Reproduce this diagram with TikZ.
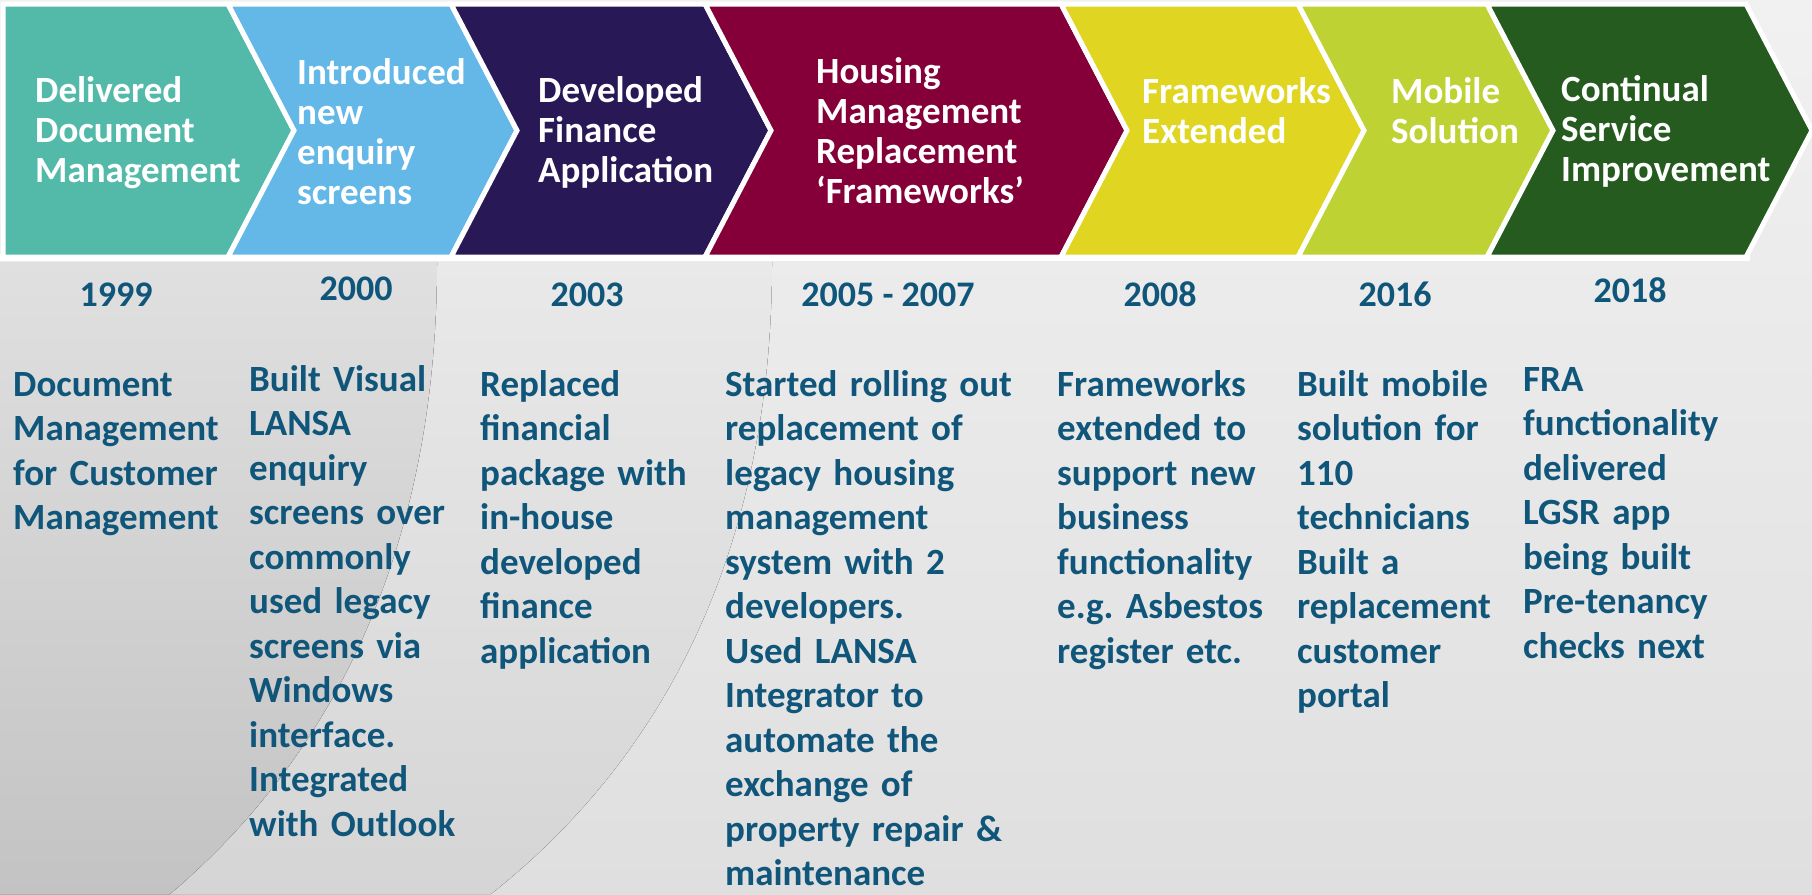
\documentclass[tikz,border=0pt]{standalone}
\usepackage{fontspec}
\setmainfont{Carlito}
\frenchspacing
\definecolor{cteal}{HTML}{53BAAA}
\definecolor{cblue}{HTML}{63B8E7}
\definecolor{cpurple}{HTML}{281856}
\definecolor{cmaroon}{HTML}{850039}
\definecolor{cyellow}{HTML}{E0D520}
\definecolor{clime}{HTML}{BED233}
\definecolor{cgreen}{HTML}{255B1F}
\definecolor{txtblue}{HTML}{10567A}
\definecolor{bgtop}{HTML}{F1F1F1}
\definecolor{bgbot}{HTML}{DFDFDF}
\definecolor{midtop}{HTML}{E9E9E9}
\definecolor{midbot}{HTML}{D5D5D5}
\definecolor{darktop}{HTML}{E0E0E0}
\definecolor{darkbot}{HTML}{C3C3C3}
\tikzset{
  chev/.style={draw=white, line width=5pt, line join=miter},
  ttl/.style={text=white, font=\bfseries\fontsize{37}{40}\selectfont, anchor=base west, inner sep=0pt, align=left, text width=320pt},
  yr/.style={text=txtblue, font=\bfseries\fontsize{36}{40}\selectfont, anchor=base, inner sep=0pt},
  body/.style={text=txtblue, font=\bfseries\fontsize{37}{44.5}\selectfont, anchor=base west, inner sep=0pt, align=left, text width=320pt},
}
\begin{document}
\begin{tikzpicture}[x=1pt,y=-1pt]
\useasboundingbox (0,0) rectangle (1812,894);
% background
\fill[top color=bgtop, bottom color=bgbot] (0,0) rectangle (1812,894);
\fill[top color=midtop, bottom color=midbot] (0,262) -- (772,262) .. controls (772,520) and (685,740) .. (491,894) -- (0,894) -- cycle;
\fill[top color=darktop, bottom color=darkbot] (0,262) -- (437,262) .. controls (437,520) and (352,740) .. (170,894) -- (0,894) -- cycle;
\fill[white] (0,254) rectangle (1750,261);
% chevrons
\path[chev, fill=cteal]   (3,4) -- (228,4) -- (294,130.5) -- (228,257) -- (3,257) -- cycle;
\path[chev, fill=cblue]   (228,4) -- (451,4) -- (517,130.5) -- (451,257) -- (228,257) -- (294,130.5) -- cycle;
\path[chev, fill=cpurple] (451,4) -- (705,4) -- (771,130.5) -- (705,257) -- (451,257) -- (517,130.5) -- cycle;
\path[chev, fill=cmaroon] (705,4) -- (1061,4) -- (1127,130.5) -- (1061,257) -- (705,257) -- (771,130.5) -- cycle;
\path[chev, fill=cyellow] (1061,4) -- (1298,4) -- (1364,130.5) -- (1298,257) -- (1061,257) -- (1127,130.5) -- cycle;
\path[chev, fill=clime]   (1298,4) -- (1487,4) -- (1553,130.5) -- (1487,257) -- (1298,257) -- (1364,130.5) -- cycle;
\path[chev, fill=cgreen]  (1487,4) -- (1746,4) -- (1812,130.5) -- (1746,257) -- (1487,257) -- (1553,130.5) -- cycle;
% titles
\node[ttl] (t1) at (35,102) {Delivered\\Document\\Management};
\node[ttl] (t2) at (297,84) {Introduced\\new\\enquiry\\screens};
\node[ttl] (t3) at (538,102) {Developed\\Finance\\Application};
\node[ttl] (t4) at (816,83) {Housing\\Management\\Replacement\\‘Frameworks’};
\node[ttl] (t5) at (1142,103) {Frameworks\\Extended};
\node[ttl] (t6) at (1391,103) {Mobile\\Solution};
\node[ttl] (t7) at (1561,101) {Continual\\Service\\Improvement};
% years
\node[yr] (y1) at (116,306) {1999};
\node[yr] (y2) at (356,300) {2000};
\node[yr] (y3) at (587,306) {2003};
\node[yr] (y4) at (888,306) {2005 - 2007};
\node[yr] (y5) at (1160,306) {2008};
\node[yr] (y6) at (1395,306) {2016};
\node[yr] (y7) at (1630,302) {2018};
% descriptions
\node[body] (b1) at (13,396) {Document\\Management\\for Customer\\Management};
\node[body] (b2) at (249,391) {Built Visual\\LANSA\\enquiry\\screens over\\commonly\\used legacy\\screens via\\Windows\\interface.\\Integrated\\with Outlook};
\node[body] (b3) at (480,396) {Replaced\\financial\\package with\\in-house\\developed\\finance\\application};
\node[body] (b4) at (725,396) {Started rolling out\\replacement of\\legacy housing\\management\\system with 2\\developers.\\Used LANSA\\Integrator to\\automate the\\exchange of\\property repair \&\\maintenance};
\node[body] (b5) at (1057,396) {Frameworks\\extended to\\support new\\business\\functionality\\e.g. Asbestos\\register etc.};
\node[body] (b6) at (1297,396) {Built mobile\\solution for\\110\\technicians\\Built a\\replacement\\customer\\portal};
\node[body] (b7) at (1523,391) {FRA\\functionality\\delivered\\LGSR app\\being built\\Pre-tenancy\\checks next};
\end{tikzpicture}
\end{document}
